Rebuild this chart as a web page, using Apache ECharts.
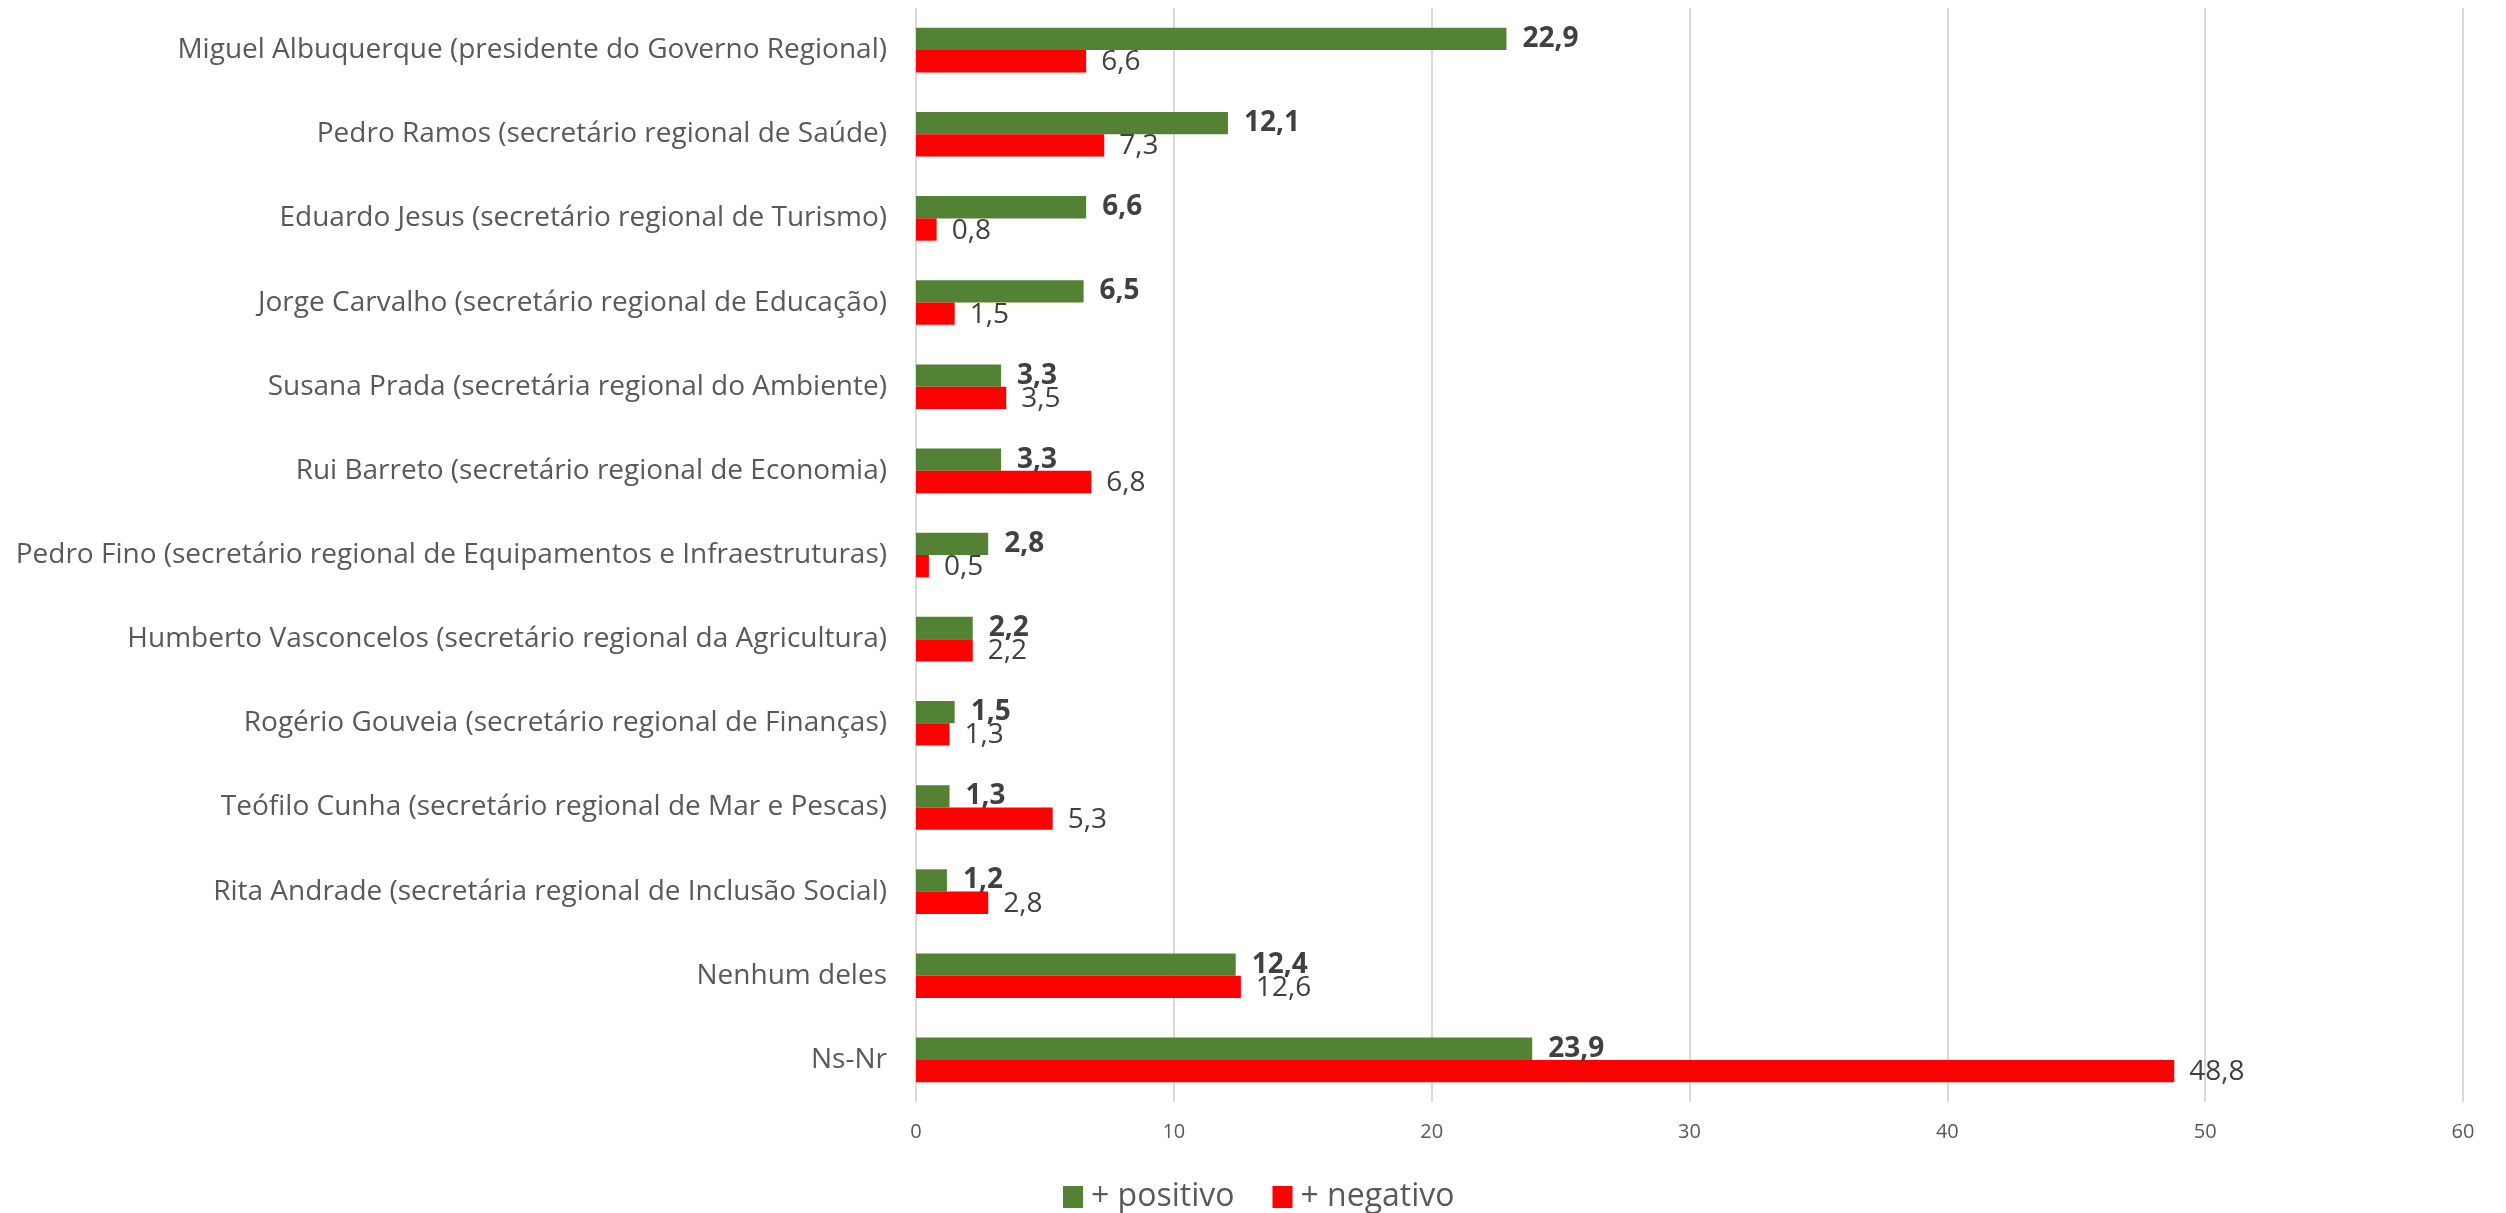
<!DOCTYPE html>
<html>
<head>
<meta charset="utf-8">
<title>Avaliação dos membros do Governo Regional</title>
<script src="https://cdn.jsdelivr.net/npm/echarts@6/dist/echarts.min.js"></script>
<style>
  html, body { margin: 0; padding: 0; background: #fff; }
  #chart { width: 2506px; height: 1213px; }
</style>
</head>
<body>
<div id="chart"></div>
<script>
const categories = [
  'Miguel Albuquerque (presidente do Governo Regional)',
  'Pedro Ramos (secretário regional de Saúde)',
  'Eduardo Jesus (secretário regional de Turismo)',
  'Jorge Carvalho (secretário regional de Educação)',
  'Susana Prada (secretária regional do Ambiente)',
  'Rui Barreto (secretário regional de Economia)',
  'Pedro Fino (secretário regional de Equipamentos e Infraestruturas)',
  'Humberto Vasconcelos (secretário regional da Agricultura)',
  'Rogério Gouveia (secretário regional de Finanças)',
  'Teófilo Cunha (secretário regional de Mar e Pescas)',
  'Rita Andrade (secretária regional de Inclusão Social)',
  'Nenhum deles',
  'Ns-Nr'
]
const positivo = [22.9, 12.1, 6.6, 6.5, 3.3, 3.3, 2.8, 2.2, 1.5, 1.3, 1.2, 12.4, 23.9]
const negativo = [6.6, 7.3, 0.8, 1.5, 3.5, 6.8, 0.5, 2.2, 1.3, 5.3, 2.8, 12.6, 48.8]

const font = '"Open Sans", "Noto Sans", sans-serif'
const comma = (p) => String(p.value).replace('.', ',')

const chart = echarts.init(document.getElementById('chart'))
const option = {
  animation: false,
  textStyle: { fontFamily: font },
  grid: { left: 916, right: 43, top: 8, bottom: 111 },
  legend: {
    top: 1176,
    left: 1058,
    itemWidth: 20,
    itemHeight: 22,
    itemGap: 38,
    icon: 'rect',
    textStyle: { fontSize: 32, color: '#595959', fontFamily: font, padding: [0, 0, 0, 3] },
    data: ['+ positivo', '+ negativo']
  },
  xAxis: {
    type: 'value',
    min: 0,
    max: 60,
    interval: 10,
    axisLine: { show: false },
    axisTick: { show: false },
    axisLabel: { fontSize: 20, color: '#595959', margin: 20, fontFamily: font },
    splitLine: { lineStyle: { color: '#d9d9d9', width: 2 } }
  },
  yAxis: {
    type: 'category',
    inverse: true,
    data: categories,
    axisLine: { show: false },
    axisTick: { show: false },
    axisLabel: { fontSize: 28, color: '#595959', margin: 29, fontFamily: font }
  },
  series: [
    {
      name: '+ positivo',
      type: 'bar',
      data: positivo,
      barGap: '0%',
      barCategoryGap: '47%',
      itemStyle: { color: '#548235' },
      label: {
        show: true,
        position: 'right',
        distance: 16,
        formatter: comma,
        fontSize: 28,
        fontWeight: 'bold',
        color: '#404040',
        fontFamily: font
      }
    },
    {
      name: '+ negativo',
      type: 'bar',
      data: negativo,
      itemStyle: { color: '#ff0000' },
      label: {
        show: true,
        position: 'right',
        distance: 15,
        offset: [0, 1],
        formatter: comma,
        fontSize: 28,
        color: '#404040',
        fontFamily: font
      }
    }
  ]
}
chart.setOption(option)
window.addEventListener('resize', () => {
  chart.resize()
})
</script>
</body>
</html>
